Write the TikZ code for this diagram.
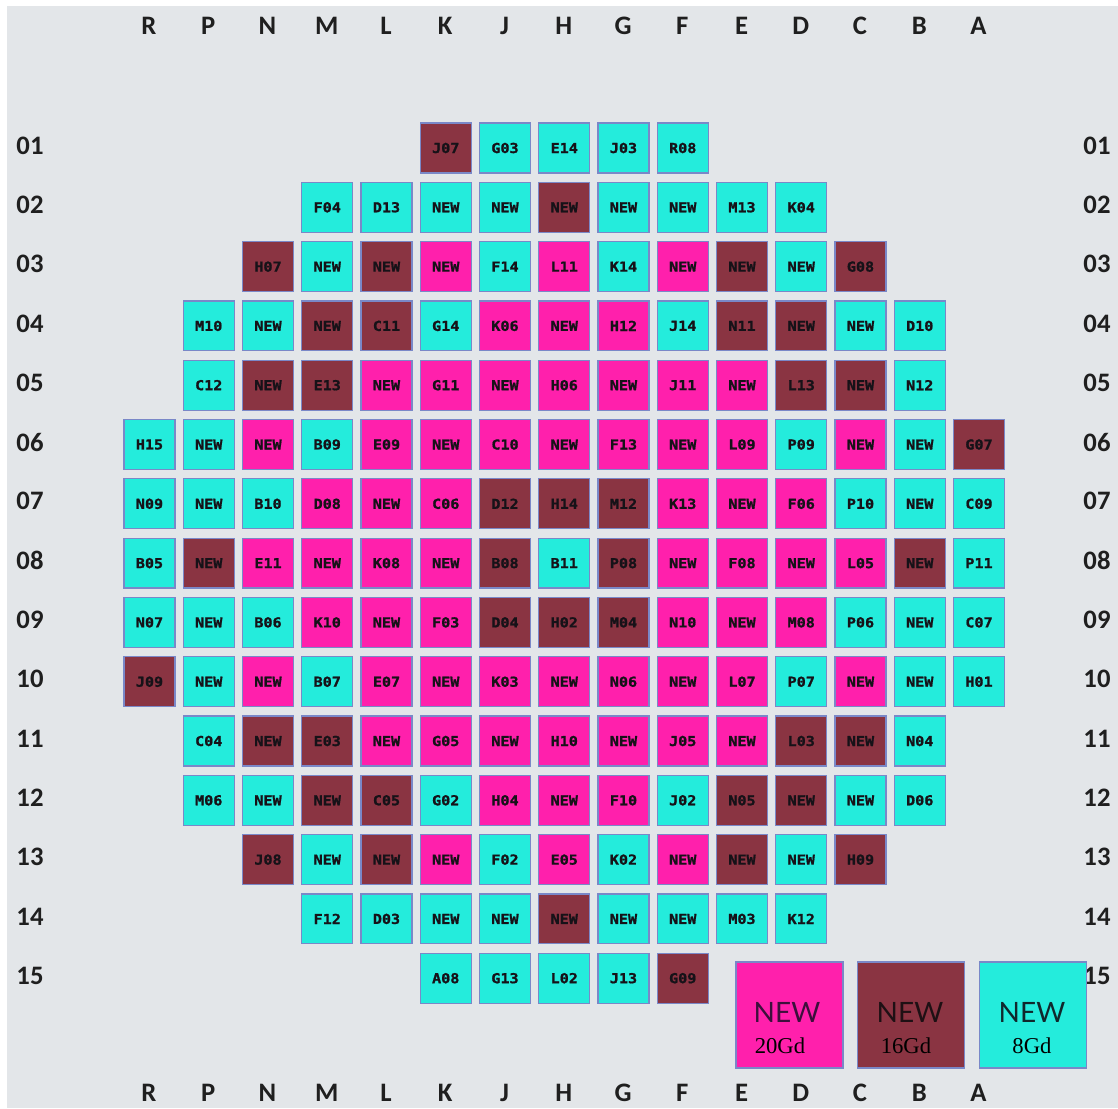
\documentclass[tikz,border=0pt]{standalone}
\usepackage{fontspec}
\newfontfamily\lblfont{Carlito}
\newfontfamily\cellfont[FakeStretch=1.1,FakeBold=1.2]{DejaVu Sans Mono}
\newfontfamily\legfont{Lato}
\newfontfamily\gdfont{Liberation Serif}
\definecolor{pinkc}{RGB}{255,32,172}
\definecolor{brownc}{RGB}{138,52,66}
\definecolor{cyanc}{RGB}{36,236,220}
\definecolor{cellborder}{RGB}{122,136,200}
\definecolor{bgc}{RGB}{227,230,233}
\definecolor{txtc}{RGB}{22,18,24}
\tikzset{
  cellbase/.style={draw=cellborder, line width=0.9pt, minimum width=38.2pt, minimum height=37.4pt,
    inner sep=0pt, font=\cellfont\bfseries\fontsize{10.3}{10.3}\selectfont, text=txtc},
  cellc/.style={cellbase, fill=cyanc},
  cellp/.style={cellbase, fill=pinkc},
  cellb/.style={cellbase, fill=brownc},
  lbl/.style={font=\lblfont\bfseries\fontsize{20}{20}\selectfont, text=black!88, inner sep=0pt},
  legbox/.style={draw=cellborder, line width=1.2pt, minimum width=80pt, minimum height=79.5pt, inner sep=0pt},
  legnew/.style={font=\legfont\fontsize{21}{21}\selectfont, inner sep=0pt},
  leggd/.style={font=\gdfont\fontsize{17}{17}\selectfont, text=black, inner sep=0pt}
}
\begin{document}
\begin{tikzpicture}[x=0.75pt, y=-0.75pt]
\useasboundingbox (0,0) rectangle (1118,1108);
\fill[white] (0,0) rectangle (1118,1108);
\fill[bgc] (7,6) rectangle (1118,1108);
% column labels
\foreach \c [count=\k from 0] in {R,P,N,M,L,K,J,H,G,F,E,D,C,B,A} {
  \node[lbl] (top\k) at ({149+59.25*\k},25.5) {\c};
  \node[lbl] (bot\k) at ({149+59.25*\k},1093) {\c};
}
% row labels
\foreach \r [count=\k from 1] in {01,02,03,04,05,06,07,08,09,10,11,12,13,14,15} {
  \node[lbl] (left\k) at (30,{145.5+59.3*(\k-1)}) {\r};
  \node[lbl] (right\k) at (1097,{145.5+59.3*(\k-1)}) {\r};
}
% cells
\newcommand{\cellrow}[3]{%
  \foreach \t/\l [count=\k from 0] in {#3} {
    \node[cell\t] (c#1-\k) at ({149.5+59.25*(#2+\k)},{148+59.3*(#1-1)}) {\l};
  }%
}
\cellrow{1}{5}{b/J07,c/G03,c/E14,c/J03,c/R08}
\cellrow{2}{3}{c/F04,c/D13,c/NEW,c/NEW,b/NEW,c/NEW,c/NEW,c/M13,c/K04}
\cellrow{3}{2}{b/H07,c/NEW,b/NEW,p/NEW,c/F14,p/L11,c/K14,p/NEW,b/NEW,c/NEW,b/G08}
\cellrow{4}{1}{c/M10,c/NEW,b/NEW,b/C11,c/G14,p/K06,p/NEW,p/H12,c/J14,b/N11,b/NEW,c/NEW,c/D10}
\cellrow{5}{1}{c/C12,b/NEW,b/E13,p/NEW,p/G11,p/NEW,p/H06,p/NEW,p/J11,p/NEW,b/L13,b/NEW,c/N12}
\cellrow{6}{0}{c/H15,c/NEW,p/NEW,c/B09,p/E09,p/NEW,p/C10,p/NEW,p/F13,p/NEW,p/L09,c/P09,p/NEW,c/NEW,b/G07}
\cellrow{7}{0}{c/N09,c/NEW,c/B10,p/D08,p/NEW,p/C06,b/D12,b/H14,b/M12,p/K13,p/NEW,p/F06,c/P10,c/NEW,c/C09}
\cellrow{8}{0}{c/B05,b/NEW,p/E11,p/NEW,p/K08,p/NEW,b/B08,c/B11,b/P08,p/NEW,p/F08,p/NEW,p/L05,b/NEW,c/P11}
\cellrow{9}{0}{c/N07,c/NEW,c/B06,p/K10,p/NEW,p/F03,b/D04,b/H02,b/M04,p/N10,p/NEW,p/M08,c/P06,c/NEW,c/C07}
\cellrow{10}{0}{b/J09,c/NEW,p/NEW,c/B07,p/E07,p/NEW,p/K03,p/NEW,p/N06,p/NEW,p/L07,c/P07,p/NEW,c/NEW,c/H01}
\cellrow{11}{1}{c/C04,b/NEW,b/E03,p/NEW,p/G05,p/NEW,p/H10,p/NEW,p/J05,p/NEW,b/L03,b/NEW,c/N04}
\cellrow{12}{1}{c/M06,c/NEW,b/NEW,b/C05,c/G02,p/H04,p/NEW,p/F10,c/J02,b/N05,b/NEW,c/NEW,c/D06}
\cellrow{13}{2}{b/J08,c/NEW,b/NEW,p/NEW,c/F02,p/E05,c/K02,p/NEW,b/NEW,c/NEW,b/H09}
\cellrow{14}{3}{c/F12,c/D03,c/NEW,c/NEW,b/NEW,c/NEW,c/NEW,c/M03,c/K12}
\cellrow{15}{5}{c/A08,c/G13,c/L02,c/J13,b/G09}
% legend
\node[legbox, fill=pinkc] (legp) at (789.5,1015) {};
\node[legbox, fill=brownc] (legb) at (911,1015) {};
\node[legbox, fill=cyanc] (legc) at (1033,1015) {};
\node[legnew, text={rgb,255:red,60;green,16;blue,60}] (legpn) at (787,1012) {NEW};
\node[legnew, text={rgb,255:red,30;green,16;blue,20}] (legbn) at (910,1012) {NEW};
\node[legnew, text={rgb,255:red,16;green,40;blue,44}] (legcn) at (1032,1012) {NEW};
\node[leggd] (legpg) at (780,1046) {20Gd};
\node[leggd] (legbg) at (906,1046) {16Gd};
\node[leggd] (legcg) at (1032,1046) {8Gd};
\end{tikzpicture}
\end{document}
